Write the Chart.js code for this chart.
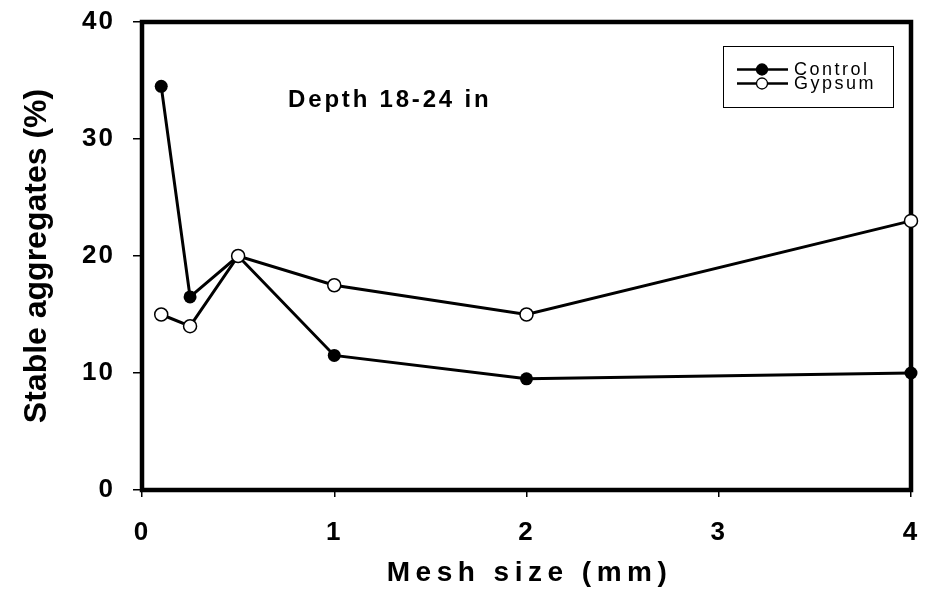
<!DOCTYPE html>
<html>
<head>
<meta charset="utf-8">
<script src="https://cdn.jsdelivr.net/npm/chart.js@4.4.0/dist/chart.umd.min.js"></script>
<style>
  html, body { margin: 0; padding: 0; background: #fff; }
  #wrap { width: 931px; height: 600px; position: relative; }
</style>
</head>
<body>
<div id="wrap"><canvas id="chart"></canvas></div>
<script>
// data
const meshSizes = [0.1, 0.25, 0.5, 1, 2, 4];
const controlValues = [34.5, 16.5, 20, 11.5, 9.5, 10];
const gypsumValues = [15, 14, 20, 17.5, 15, 23];
const xTickValues = [0, 1, 2, 3, 4];
const yTickValues = [0, 10, 20, 30, 40];
const seriesNames = ['Control', 'Gypsum'];
const annotationText = 'Depth 18-24 in';
const xTitle = 'Mesh size (mm)';
const yTitle = 'Stable aggregates (%)';

const FONT = 'Arial, "Liberation Sans", sans-serif';

function toPoints(values) {
    return meshSizes.map((x, i) => ({ x: x, y: values[i] }));
}

// thick box around the plot area, drawn under the lines
const framePlugin = {
    id: 'frame',
    beforeDatasetsDraw(chart) {
        const { ctx, chartArea: a } = chart;
        ctx.save();
        ctx.lineWidth = 4.5;
        ctx.strokeStyle = '#000';
        ctx.strokeRect(a.left, a.top, a.right - a.left, a.bottom - a.top);
        ctx.restore();
    }
};

// the original glyphs are a little stretched sideways; spacing fakes that for tick labels
const spacingPlugin = {
    id: 'spacing',
    beforeDraw(chart) { chart.ctx.letterSpacing = '2px'; },
    afterDraw(chart) { chart.ctx.letterSpacing = '0px'; }
};

// axis titles, "Depth 18-24 in" label and the boxed legend
const notesPlugin = {
    id: 'notes',
    afterDraw(chart) {
        const { ctx, chartArea: a, scales } = chart;
        ctx.save();
        ctx.fillStyle = '#000';
        ctx.textBaseline = 'middle';

        // x axis title
        ctx.font = 'bold 28px ' + FONT;
        ctx.letterSpacing = '5.5px';
        ctx.textAlign = 'center';
        ctx.fillText(xTitle, (a.left + a.right) / 2 + 3, 573);

        // y axis title
        ctx.save();
        ctx.translate(37, (a.top + a.bottom) / 2);
        ctx.rotate(-Math.PI / 2);
        ctx.font = 'bold 32px ' + FONT;
        ctx.letterSpacing = '0px';
        ctx.fillText(yTitle, 0, 0);
        ctx.restore();

        // annotation
        ctx.font = 'bold 24px ' + FONT;
        ctx.letterSpacing = '2.8px';
        ctx.textAlign = 'left';
        ctx.fillText(annotationText, scales.x.getPixelForValue(0.76), scales.y.getPixelForValue(33.3));

        // legend box
        const bw = 170, bh = 61;
        const bx = a.right - 18 - bw, by = a.top + 24;
        ctx.lineWidth = 1;
        ctx.strokeStyle = '#000';
        ctx.fillStyle = '#fff';
        ctx.fillRect(bx, by, bw, bh);
        ctx.strokeRect(bx + 0.5, by + 0.5, bw, bh);

        ctx.font = '18px ' + FONT;
        ctx.letterSpacing = '2.5px';
        const rows = [by + 23.5, by + 37.5];
        seriesNames.forEach((name, i) => {
            const y = rows[i];
            ctx.beginPath();
            ctx.lineWidth = 2.5;
            ctx.moveTo(bx + 14, y);
            ctx.lineTo(bx + 65, y);
            ctx.stroke();
            ctx.beginPath();
            ctx.arc(bx + 39, y, 5.5, 0, Math.PI * 2);
            ctx.fillStyle = i === 0 ? '#000' : '#fff';
            ctx.fill();
            ctx.lineWidth = 1.3;
            ctx.stroke();
            ctx.fillStyle = '#000';
            ctx.fillText(name, bx + 71, y + 1);
        });
        ctx.restore();
    }
};

const ctx = document.getElementById('chart').getContext('2d');
const chart = new Chart(ctx, {
    type: 'line',
    data: {
        datasets: [
            {
                label: seriesNames[1],
                data: toPoints(gypsumValues),
                borderColor: '#000',
                borderWidth: 3,
                pointRadius: 6.5,
                pointBorderWidth: 1.5,
                pointBackgroundColor: '#fff',
                pointBorderColor: '#000',
                clip: false,
                tension: 0
            },
            {
                label: seriesNames[0],
                data: toPoints(controlValues),
                borderColor: '#000',
                borderWidth: 3,
                pointRadius: 6.5,
                pointBorderWidth: 0,
                pointBackgroundColor: '#000',
                pointBorderColor: '#000',
                clip: false,
                tension: 0
            }
        ]
    },
    options: {
        responsive: true,
        maintainAspectRatio: false,
        animation: false,
        events: [],
        layout: { padding: { top: 22, right: 20, left: 0, bottom: 0 } },
        plugins: {
            legend: { display: false },
            tooltip: { enabled: false }
        },
        scales: {
            x: {
                type: 'linear',
                min: 0,
                max: 4,
                afterBuildTicks(scale) { scale.ticks = xTickValues.map(v => ({ value: v })); },
                afterFit(scale) {
                    scale.height = 110;
                    scale.paddingLeft = 0;
                    scale.paddingRight = 0;
                },
                grid: { drawOnChartArea: false, tickLength: 7, tickColor: '#000', lineWidth: 1.5 },
                border: { display: false },
                ticks: {
                    color: '#000',
                    padding: 20,
                    maxRotation: 0,
                    font: { family: FONT, size: 26, weight: 'bold' }
                }
            },
            y: {
                type: 'linear',
                min: 0,
                max: 40,
                afterBuildTicks(scale) { scale.ticks = yTickValues.map(v => ({ value: v })); },
                afterFit(scale) {
                    scale.width = 142;
                    scale.paddingTop = 0;
                    scale.paddingBottom = 0;
                },
                grid: { drawOnChartArea: false, tickLength: 9, tickColor: '#000', lineWidth: 1.5 },
                border: { display: false },
                ticks: {
                    color: '#000',
                    padding: 18,
                    font: { family: FONT, size: 26, weight: 'bold' }
                }
            }
        }
    },
    plugins: [spacingPlugin, framePlugin, notesPlugin]
});
</script>
</body>
</html>
